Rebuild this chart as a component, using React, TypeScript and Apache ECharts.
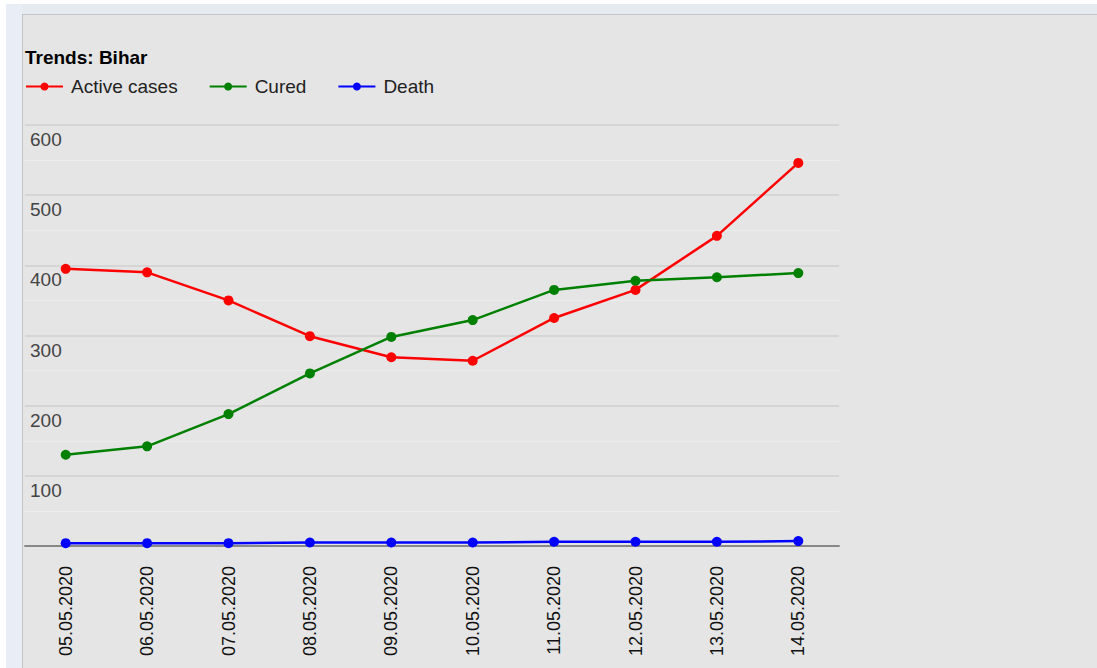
import React, { useEffect, useRef } from "react";
import * as echarts from "echarts";

const dates = [
  "05.05.2020", "06.05.2020", "07.05.2020", "08.05.2020", "09.05.2020",
  "10.05.2020", "11.05.2020", "12.05.2020", "13.05.2020", "14.05.2020",
];
const activeCases = [395, 390, 350, 299, 269, 264, 325, 365, 442, 546];
const cured = [130, 142, 188, 246, 298, 322, 365, 378, 383, 389];
const death = [4, 4, 4, 5, 5, 5, 6, 6, 6, 7];

const FONT = 'Arial, "Liberation Sans", sans-serif';

export default function App() {
  const ref = useRef<HTMLDivElement>(null);
  useEffect(() => {
    if (!ref.current) return;
    const chart = echarts.init(ref.current, null, { renderer: "svg" });
    const mk = (name: string, data: number[], color: string) => ({
      name,
      type: "line",
      data,
      symbol: "circle",
      symbolSize: 10,
      itemStyle: { color },
      lineStyle: { color, width: 2.5 },
    });
    chart.setOption({
      animation: false,
      backgroundColor: "#e5e5e5",
      textStyle: { fontFamily: FONT },
      graphic: [
        { type: "rect", silent: true, shape: { x: 0, y: 0, width: 1097, height: 4 }, style: { fill: "#ffffff" } },
        { type: "rect", silent: true, shape: { x: 0, y: 0, width: 6, height: 668 }, style: { fill: "#ffffff" } },
        { type: "rect", silent: true, shape: { x: 6, y: 4, width: 1091, height: 10 }, style: { fill: "#e6ebf2" } },
        { type: "rect", silent: true, shape: { x: 6, y: 4, width: 16, height: 664 }, style: { fill: "#e9eef6" } },
        { type: "line", silent: true, shape: { x1: 22.5, y1: 14, x2: 22.5, y2: 668 }, style: { stroke: "#c4c4c4", lineWidth: 1 } },
        { type: "line", silent: true, shape: { x1: 22, y1: 14.5, x2: 1097, y2: 14.5 }, style: { stroke: "#c4c4c4", lineWidth: 1 } },
      ],
      title: {
        text: "Trends: Bihar",
        left: 20,
        top: 43,
        textStyle: { fontSize: 19, fontWeight: "bold", color: "#000", fontFamily: FONT },
      },
      legend: {
        left: 20,
        top: 72,
        itemWidth: 37,
        itemHeight: 10,
        itemGap: 31,
        textStyle: { fontSize: 19, color: "#222", fontFamily: FONT, padding: [0, 0, 0, 3] },
        data: ["Active cases", "Cured", "Death"],
      },
      grid: { left: 25, right: 258, top: 125, bottom: 122 },
      xAxis: {
        type: "category",
        data: dates,
        boundaryGap: true,
        axisLine: { show: true, lineStyle: { color: "#888", width: 2 } },
        axisTick: { show: false },
        axisLabel: { rotate: 90, margin: 20, fontSize: 18, color: "#111", fontFamily: FONT },
        splitLine: { show: false },
      },
      yAxis: {
        type: "value",
        min: 0,
        max: 600,
        interval: 100,
        axisLine: { show: false },
        axisTick: { show: false },
        axisLabel: {
          inside: true,
          margin: 5,
          fontSize: 19,
          color: "#444",
          fontFamily: FONT,
          verticalAlign: "top",
          padding: [5, 0, 0, 0],
          formatter: (v: number) => (v === 0 ? "" : String(v)),
        },
        splitLine: { lineStyle: { color: "#cfcfcf", width: 1.5 } },
        minorTick: { show: false, splitNumber: 2 },
        minorSplitLine: { show: true, lineStyle: { color: "#ececec", width: 1 } },
      },
      series: [
        mk("Active cases", activeCases, "#ff0000"),
        mk("Cured", cured, "#008000"),
        mk("Death", death, "#0000ff"),
      ],
    });
    return () => chart.dispose();
  }, []);
  return (
    <div style={{ position: "fixed", left: 0, top: 0, width: 1097, height: 668, background: "#fff" }}>
      <div ref={ref} style={{ width: 1097, height: 668 }} />
    </div>
  );
}
